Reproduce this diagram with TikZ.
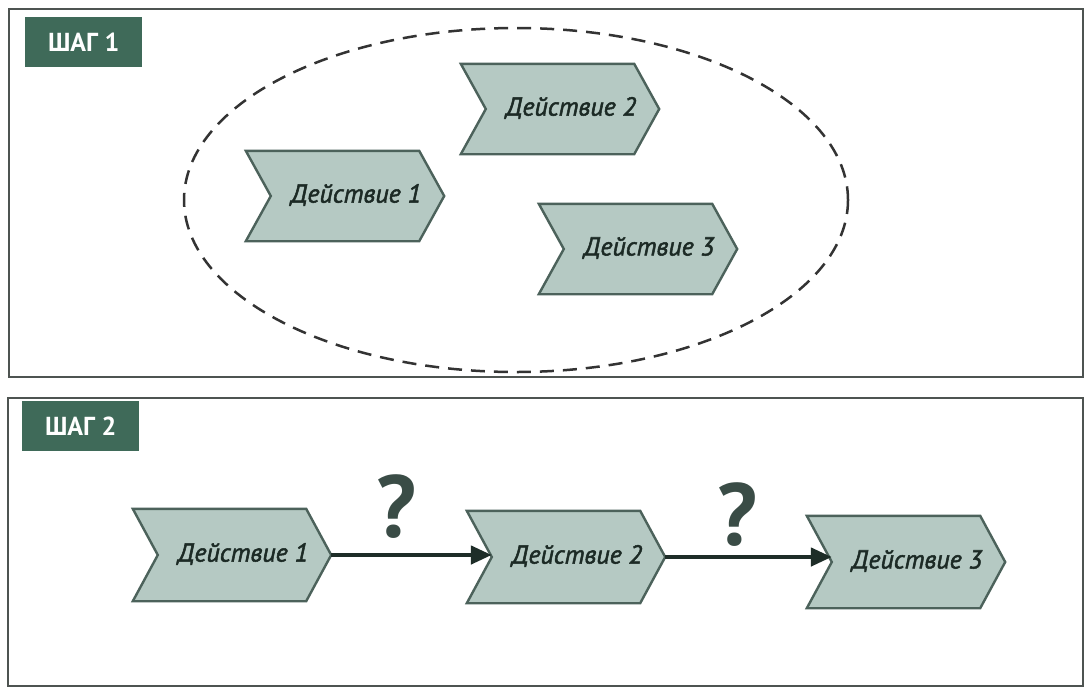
\documentclass[tikz,border=0pt]{standalone}
\usepackage{fontspec}
\newfontfamily\ptsans{PT Sans}
\newfontfamily\chevfont[FakeBold=2]{PT Sans}
\usetikzlibrary{arrows.meta}
\definecolor{chevfill}{HTML}{B5C9C3}
\definecolor{chevdraw}{HTML}{4C625B}
\definecolor{labfill}{HTML}{3F6A59}
\definecolor{qcol}{HTML}{3A4C46}
\definecolor{panelcol}{HTML}{4E5451}
\definecolor{arrcol}{HTML}{1E2D28}
\definecolor{txtcol}{HTML}{1C2A25}
\begin{document}
\begin{tikzpicture}[x=1pt,y=-1pt,
  panel/.style={draw=panelcol, line width=2pt},
  labbox/.style={fill=labfill, text=white, font=\ptsans\bfseries\fontsize{26}{26}\selectfont, minimum width=117pt, minimum height=50pt, inner sep=0pt},
  chevbox/.style={minimum width=198pt, minimum height=90pt, inner sep=0pt},
  chevbig/.style={minimum width=198pt, minimum height=92pt, inner sep=0pt},
  chevshape/.style={fill=chevfill, draw=chevdraw, line width=2.4pt, line join=miter},
  chevtxt/.style={font=\chevfont\itshape\fontsize{26}{26}\selectfont, text=txtcol, inner sep=0pt},
  qmark/.style={font=\ptsans\bfseries\fontsize{88}{88}\selectfont, text=qcol, inner sep=0pt},
  ring/.style={draw=black!80, line width=2.5pt, dash pattern=on 14pt off 9pt},
  arr/.style={draw=arrcol, line width=4.5pt, -{Triangle[length=21pt,width=18pt]}}
]
\useasboundingbox (0,0) rectangle (1086,689);
\fill[white] (0,0) rectangle (1086,689);
% panels
\draw[panel] (9,9) rectangle (1083,377);
\draw[panel] (8,398) rectangle (1083,686);
\node[labbox, anchor=north west] (lab1) at (25,17) {ШАГ 1};
\node[labbox, anchor=north west] (lab2) at (22,401) {ШАГ 2};
% dashed ellipse
\draw[ring] (516,200) ellipse [x radius=332, y radius=172];
% chevron macro
\newcommand\chevron[5]{%
  \node[#5] (#1) at (#2,#3) {};
  \path[chevshape] (#1.north west) -- ([xshift=-25pt]#1.north east) -- (#1.east)
     -- ([xshift=-25pt]#1.south east) -- (#1.south west) -- ([xshift=25pt]#1.west) -- cycle;
  \node[chevtxt] (#1t) at ([xshift=11pt,yshift=1pt]#1.center) {#4};
}
% step 1
\chevron{a1}{345}{196}{Действие 1}{chevbox}
\chevron{a2}{560}{109}{Действие 2}{chevbox}
\chevron{a3}{638}{249}{Действие 3}{chevbox}
% step 2
\chevron{b1}{232}{555}{Действие 1}{chevbig}
\chevron{b2}{566}{557}{Действие 2}{chevbig}
\chevron{b3}{906}{562}{Действие 3}{chevbig}
\draw[arr] (b1.east) -- ([xshift=25pt]b2.west |- b1.east);
\draw[arr] (b2.east) -- ([xshift=25pt]b3.west |- b2.east);
\node[qmark] (q1) at (396,507) {?};
\node[qmark] (q2) at (737,515) {?};
\end{tikzpicture}
\end{document}
